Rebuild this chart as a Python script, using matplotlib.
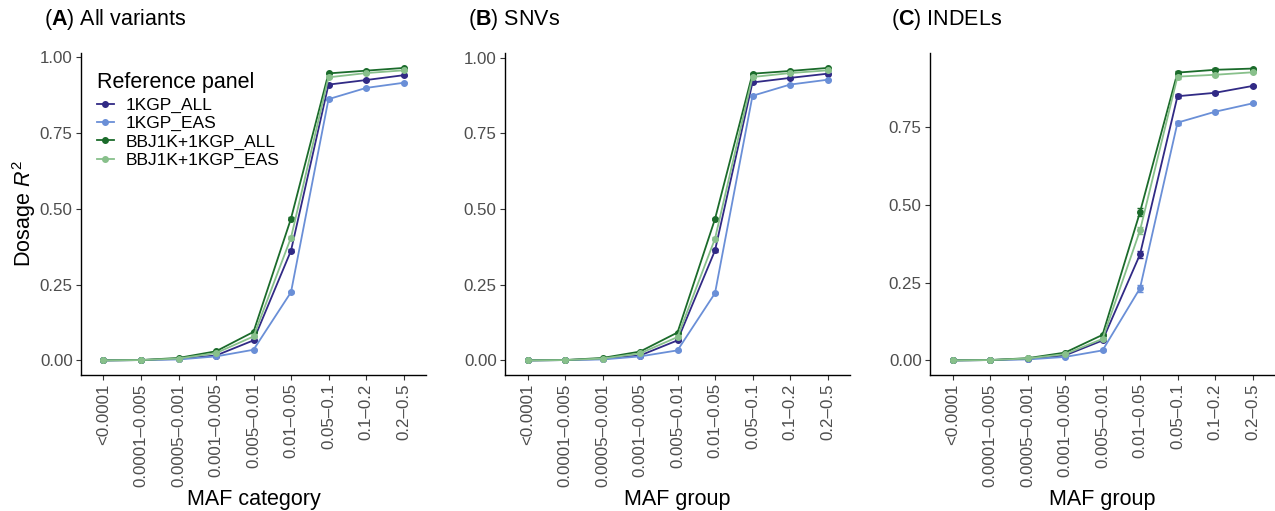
import matplotlib
matplotlib.use("Agg")
import matplotlib.pyplot as plt
from matplotlib.lines import Line2D
import numpy as np

plt.rcParams['font.family'] = ['Liberation Sans', 'DejaVu Sans']
plt.rcParams['mathtext.fontset'] = 'custom'
plt.rcParams['mathtext.rm'] = 'Liberation Sans'
plt.rcParams['mathtext.it'] = 'Liberation Sans:italic'
plt.rcParams['mathtext.bf'] = 'Liberation Sans:bold'

categories = ["<0.0001", "0.0001–0.005", "0.0005–0.001", "0.001–0.005",
              "0.005–0.01", "0.01–0.05", "0.05–0.1", "0.1–0.2", "0.2–0.5"]
series_names = ["1KGP_ALL", "1KGP_EAS", "BBJ1K+1KGP_ALL", "BBJ1K+1KGP_EAS"]
colors = ["#312a85", "#6a8fd7", "#1b6b2b", "#88c08b"]

panel_titles = ["A", "B", "C"]
panel_subtitles = ["All variants", "SNVs", "INDELs"]
xlabels = ["MAF category", "MAF group", "MAF group"]

# Panel A: All variants
all_1kgp_all = [0.000, 0.001, 0.005, 0.016, 0.066, 0.362, 0.910, 0.925, 0.941]
all_1kgp_eas = [0.000, 0.001, 0.003, 0.013, 0.035, 0.225, 0.862, 0.899, 0.916]
all_bbj_all = [0.000, 0.001, 0.008, 0.030, 0.094, 0.468, 0.947, 0.956, 0.965]
all_bbj_eas = [0.000, 0.001, 0.006, 0.024, 0.079, 0.405, 0.934, 0.948, 0.957]

# Panel B: SNVs
snv_1kgp_all = [0.000, 0.001, 0.005, 0.016, 0.066, 0.363, 0.918, 0.933, 0.947]
snv_1kgp_eas = [0.000, 0.001, 0.003, 0.013, 0.033, 0.222, 0.874, 0.911, 0.927]
snv_bbj_all = [0.000, 0.001, 0.008, 0.029, 0.092, 0.467, 0.947, 0.956, 0.966]
snv_bbj_eas = [0.000, 0.001, 0.006, 0.023, 0.077, 0.402, 0.936, 0.949, 0.958]

# Panel C: INDELs
indel_1kgp_all = [0.000, 0.001, 0.005, 0.016, 0.064, 0.341, 0.850, 0.861, 0.883]
indel_1kgp_eas = [0.000, 0.001, 0.003, 0.011, 0.032, 0.232, 0.765, 0.800, 0.827]
indel_bbj_all = [0.000, 0.001, 0.007, 0.025, 0.082, 0.477, 0.926, 0.935, 0.939]
indel_bbj_eas = [0.000, 0.001, 0.006, 0.020, 0.069, 0.418, 0.913, 0.919, 0.927]

# standard errors (small)
err_all = [0.0, 0.0, 0.0005, 0.001, 0.002, 0.004, 0.002, 0.002, 0.001]
err_snv = [0.0, 0.0, 0.0005, 0.001, 0.002, 0.004, 0.002, 0.002, 0.001]
err_indel = [0.0, 0.0, 0.001, 0.002, 0.003, 0.012, 0.006, 0.005, 0.003]

panels = [
    [all_1kgp_all, all_1kgp_eas, all_bbj_all, all_bbj_eas],
    [snv_1kgp_all, snv_1kgp_eas, snv_bbj_all, snv_bbj_eas],
    [indel_1kgp_all, indel_1kgp_eas, indel_bbj_all, indel_bbj_eas],
]
panel_errs = [err_all, err_snv, err_indel]

W, H = 1275, 511
fig = plt.figure(figsize=(W / 100, H / 100), dpi=100)

ax_lefts = [81, 505, 930]
ax_width = 345
ax_top = 53
ax_bottom = 375
title_x = [44, 468, 891]

TITLE_FS = 15.5
TICK_FS = 12.2
LEG_FS = 12.5

x = np.arange(len(categories))
for p in range(3):
    ax = fig.add_axes([ax_lefts[p] / W, (H - ax_bottom) / H,
                       ax_width / W, (ax_bottom - ax_top) / H])
    ymax = 0
    for s in range(4):
        vals = np.array(panels[p][s])
        err = np.array(panel_errs[p])
        ax.errorbar(x, vals, yerr=err, color=colors[s], lw=1.3, marker='o',
                    ms=4, capsize=2.5, elinewidth=1.0, capthick=1.0)
        ymax = max(ymax, (vals + err).max())
    ax.set_xlim(-0.6, len(categories) - 1 + 0.6)
    lo, hi = -0.05 * ymax, 1.05 * ymax
    ax.set_ylim(lo, hi)
    yt = [v for v in [0, 0.25, 0.5, 0.75, 1.0] if v <= hi]
    ax.set_yticks(yt)
    ax.set_yticklabels([f"{v:.2f}" for v in yt])
    ax.set_xticks(x)
    ax.set_xticklabels(categories, rotation=90)
    for sp in ['top', 'right']:
        ax.spines[sp].set_visible(False)
    for sp in ['left', 'bottom']:
        ax.spines[sp].set_linewidth(1.0)
        ax.spines[sp].set_color('black')
    ax.tick_params(axis='both', colors='#333333', labelcolor='#4d4d4d',
                   labelsize=TICK_FS, length=3.5, width=0.8, pad=2.5)
    ax.set_xlabel(xlabels[p], fontsize=TITLE_FS, labelpad=2)
    fig.text(title_x[p] / W, 1 - 19 / H,
             f"($\\mathbf{{{panel_titles[p]}}}$) {panel_subtitles[p]}",
             fontsize=TITLE_FS, ha='left', va='center')
    if p == 0:
        ax.set_ylabel("Dosage $\\mathit{R}^2$", fontsize=TITLE_FS, labelpad=1.5)
        handles = [Line2D([0], [0], color=colors[s], lw=1.3, marker='o', ms=4)
                   for s in range(4)]
        leg = ax.legend(handles, series_names, loc='upper left',
                        bbox_to_anchor=(0.045, 0.94),
                        frameon=False, title="Reference panel",
                        fontsize=LEG_FS, title_fontsize=TITLE_FS,
                        handlelength=1.0, handletextpad=0.7,
                        labelspacing=0.18, borderaxespad=0, borderpad=0)
        leg._legend_box.align = "left"
        leg._legend_box.sep = 3

fig.savefig("out.png", dpi=100)
